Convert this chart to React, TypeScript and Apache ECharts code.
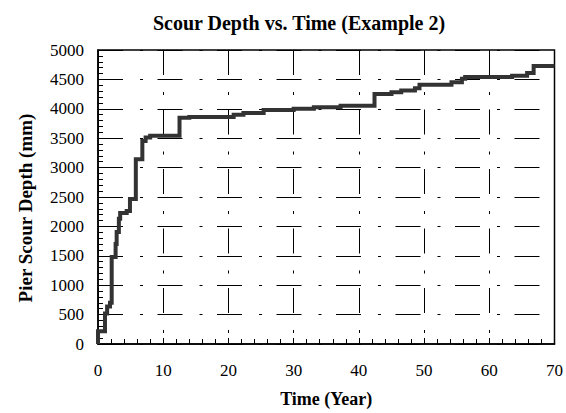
import React, { useEffect, useRef } from "react";
import * as echarts from "echarts";

const years: number[] = [0, 0, 1.07, 1.4, 1.84, 2.1, 2.7, 2.86, 3.2, 3.4, 4.4, 4.9, 5.8, 6.8, 7.3, 8, 12.5, 14, 20.8, 22.3, 25.4, 30, 33.1, 37.2, 42.4, 45, 46.5, 48.6, 49.3, 54.2, 55.8, 56.3, 63.5, 65.8, 66.8, 70];
const depths: number[] = [0, 215, 520, 637, 700, 1480, 1700, 1904, 2128, 2230, 2260, 2466, 3142, 3451, 3510, 3540, 3846, 3860, 3900, 3930, 3980, 4000, 4025, 4050, 4250, 4280, 4310, 4350, 4410, 4450, 4510, 4540, 4560, 4610, 4730, 4730];

const TITLE = "Scour Depth vs. Time (Example 2)";
const X_NAME = "Time (Year)";
const Y_NAME = "Pier Scour Depth (mm)";

const FONT = "Liberation Serif";

export default function App() {
  const ref = useRef<HTMLDivElement>(null);
  useEffect(() => {
    if (!ref.current) return;
    const chart = echarts.init(ref.current, undefined, { renderer: "svg" });
    const gridLine = {
      show: true,
      lineStyle: { color: "#000", width: 1, type: [25, 17, 3, 14.5], dashOffset: 0 },
    };
    chart.setOption({
      animation: false,
      backgroundColor: "#fff",
      title: {
        text: TITLE,
        left: 294,
        top: 8,
        textAlign: "center",
        textStyle: { fontFamily: FONT, fontWeight: "bold", fontSize: 20, color: "#000" },
      },
      graphic: [
        {
          type: "text",
          x: 25,
          y: 208,
          rotation: Math.PI / 2,
          style: {
            text: Y_NAME,
            fill: "#000",
            font: `bold 19px "${FONT}"`,
            textAlign: "center",
            textVerticalAlign: "middle",
          },
        },
      ],
      grid: {
        left: 98,
        top: 50,
        width: 457,
        height: 296,
        show: true,
        borderColor: "#000",
        borderWidth: 1.5,
        backgroundColor: "transparent",
      },
      xAxis: {
        type: "value",
        min: 0,
        max: 70,
        interval: 10,
        name: X_NAME,
        nameLocation: "middle",
        nameGap: 46,
        nameTextStyle: { fontFamily: FONT, fontWeight: "bold", fontSize: 18, color: "#000" },
        axisLine: { show: true, lineStyle: { color: "#000", width: 1.5 } },
        axisTick: { show: true, inside: true, length: 6, lineStyle: { color: "#000" } },
        minorTick: { show: true, splitNumber: 5, length: 5, lineStyle: { color: "#000" } },
        axisLabel: { fontFamily: FONT, fontSize: 17, color: "#000", margin: 18 },
        splitLine: gridLine,
      },
      yAxis: {
        type: "value",
        min: 0,
        max: 5000,
        interval: 500,
        axisLine: { show: true, lineStyle: { color: "#000", width: 1.5 } },
        axisTick: { show: true, inside: true, length: 6, lineStyle: { color: "#000" } },
        minorTick: { show: true, splitNumber: 5, length: 5, lineStyle: { color: "#000" } },
        axisLabel: {
          fontFamily: FONT,
          fontSize: 17,
          color: "#000",
          margin: 14,
          formatter: (v: number) => String(v),
        },
        splitLine: gridLine,
      },
      series: [
        {
          type: "line",
          step: "end",
          showSymbol: false,
          symbol: "none",
          data: years.map((y, i) => [y, depths[i]]),
          lineStyle: { color: "#333", width: 4, join: "miter" },
          z: 5,
        },
      ],
    });
    return () => chart.dispose();
  }, []);
  return (
    <div
      ref={ref}
      style={{ position: "fixed", left: 0, top: 0, width: 566, height: 413, background: "#fff" }}
    />
  );
}
